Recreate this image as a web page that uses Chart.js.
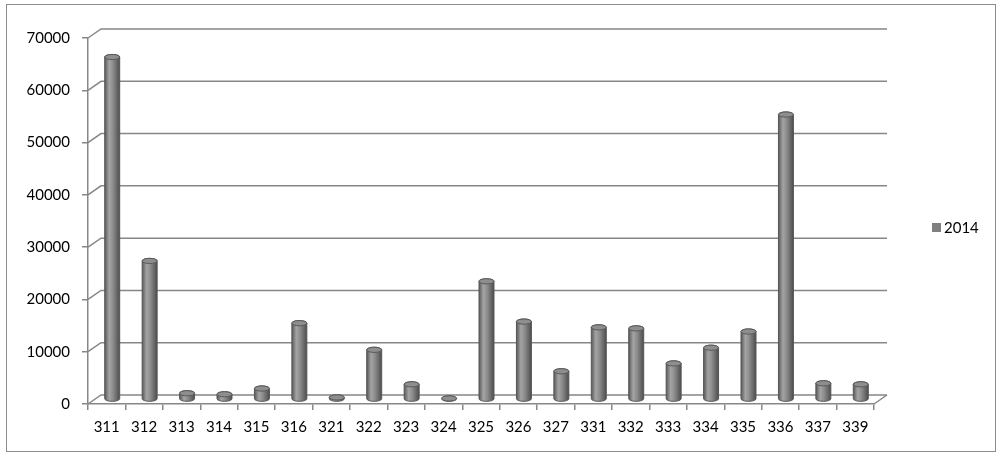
<!DOCTYPE html>
<html><head><meta charset="utf-8">
<script src="https://cdn.jsdelivr.net/npm/chart.js@4/dist/chart.umd.min.js"></script>
<style>html,body{margin:0;padding:0;background:#fff}#wrap{width:1000px;height:458px;position:relative}</style>
</head><body><div id="wrap"><canvas id="c" width="1000" height="458"></canvas></div>
<script>
const categories = ['311','312','313','314','315','316','321','322','323','324','325','326','327','331','332','333','334','335','336','337','339'];
const seriesName = '2014';
const values2014 = [65500,26500,1200,1000,2100,14600,400,9500,2900,200,22600,14900,5400,13800,13600,6900,9900,13000,54500,3100,2900];
const yTicks = [0,10000,20000,30000,40000,50000,60000,70000];

const FONT = 'Lato, "Open Sans", sans-serif';
const GRID = '#878787';
const DX = 13, DY = 9;       // 3D depth offset of back wall
const BX = 5.5, BY = -4.5;   // cylinder offset (mid depth)

const plugin3d = {
  id: 'plugin3d',
  beforeDraw(chart) {
    const c = chart.ctx;
    c.save();
    c.fillStyle = '#fff';
    c.fillRect(0, 0, chart.width, chart.height);
    c.strokeStyle = '#8c8c8c';
    c.lineWidth = 1;
    c.strokeRect(6.5, 4.5, 989, 447);
    c.restore();
  },
  beforeDatasetsDraw(chart) {
    const c = chart.ctx, a = chart.chartArea, ys = chart.scales.y;
    c.save();
    c.strokeStyle = GRID;
    c.lineWidth = 1.5;
    yTicks.forEach(v => {
      const y = ys.getPixelForValue(v);
      c.beginPath();
      c.moveTo(a.left, y);
      c.lineTo(a.left + DX, y - DY);
      c.lineTo(a.right + DX, y - DY);
      c.stroke();
    });
    c.beginPath();
    c.moveTo(a.right, a.bottom);
    c.lineTo(a.right + DX, a.bottom - DY);
    c.stroke();
    c.restore();
  },
  beforeDatasetDraw() { return false; },
  afterDatasetsDraw(chart) {
    const c = chart.ctx;
    const meta = chart.getDatasetMeta(0);
    c.save();
    meta.data.forEach(el => {
      const p = el.getProps(['x','y','base','width'], true);
      const cx = p.x + BX, top = p.y + BY, bot = p.base + BY;
      const rx = p.width / 2, ry = 2.6;
      const g = c.createLinearGradient(cx - rx, 0, cx + rx, 0);
      g.addColorStop(0, '#5a5a5a');
      g.addColorStop(0.3, '#a4a4a4');
      g.addColorStop(0.55, '#8c8c8c');
      g.addColorStop(1, '#4e4e4e');
      c.beginPath();
      c.moveTo(cx - rx, top);
      c.lineTo(cx - rx, bot);
      c.ellipse(cx, bot, rx, ry, 0, Math.PI, 0, true);
      c.lineTo(cx + rx, top);
      c.ellipse(cx, top, rx, ry, 0, 0, Math.PI, true);
      c.closePath();
      c.fillStyle = g;
      c.fill();
      c.strokeStyle = '#555';
      c.lineWidth = 1;
      c.stroke();
      c.beginPath();
      c.ellipse(cx, top, rx, ry, 0, 0, Math.PI * 2);
      c.fillStyle = '#8e8e8e';
      c.fill();
      c.strokeStyle = '#5a5a5a';
      c.stroke();
    });
    c.restore();
  },
  afterDraw(chart) {
    const c = chart.ctx;
    c.save();
    c.fillStyle = '#808080';
    c.fillRect(932, 223, 9, 9);
    c.fillStyle = '#000';
    c.font = '15px ' + FONT;
    c.textBaseline = 'middle';
    c.textAlign = 'left';
    c.fillText(chart.data.datasets[0].label, 944, 228);
    c.restore();
  }
};

new Chart(document.getElementById('c'), {
  type: 'bar',
  data: {
    labels: categories,
    datasets: [{ label: seriesName, data: values2014, backgroundColor: '#808080',
      categoryPercentage: 1, barPercentage: 0.4 }]
  },
  options: {
    responsive: false,
    animation: false,
    layout: { padding: { left: 0, right: 126, top: 38, bottom: 0 } },
    plugins: { legend: { display: false }, tooltip: { enabled: false } },
    scales: {
      x: {
        offset: true,
        grid: { offset: true, drawOnChartArea: false, drawTicks: true, tickLength: 6, color: GRID, lineWidth: 1.5 },
        border: { display: true, color: GRID, width: 1.5 },
        ticks: { color: '#000', font: { family: FONT, size: 15 }, padding: 8, maxRotation: 0, autoSkip: false },
        afterFit(s) { s.height = 54; }
      },
      y: {
        min: 0, max: 70000,
        afterBuildTicks(s) { s.ticks = yTicks.map(v => ({ value: v })); },
        grid: { drawOnChartArea: false, drawTicks: true, tickLength: 6, color: GRID, lineWidth: 1.5 },
        border: { display: true, color: GRID, width: 1.5 },
        ticks: { color: '#000', font: { family: FONT, size: 15 }, padding: 12, callback: v => String(v) },
        afterFit(s) { s.width = 88; }
      }
    }
  },
  plugins: [plugin3d]
});
</script>
</body></html>
